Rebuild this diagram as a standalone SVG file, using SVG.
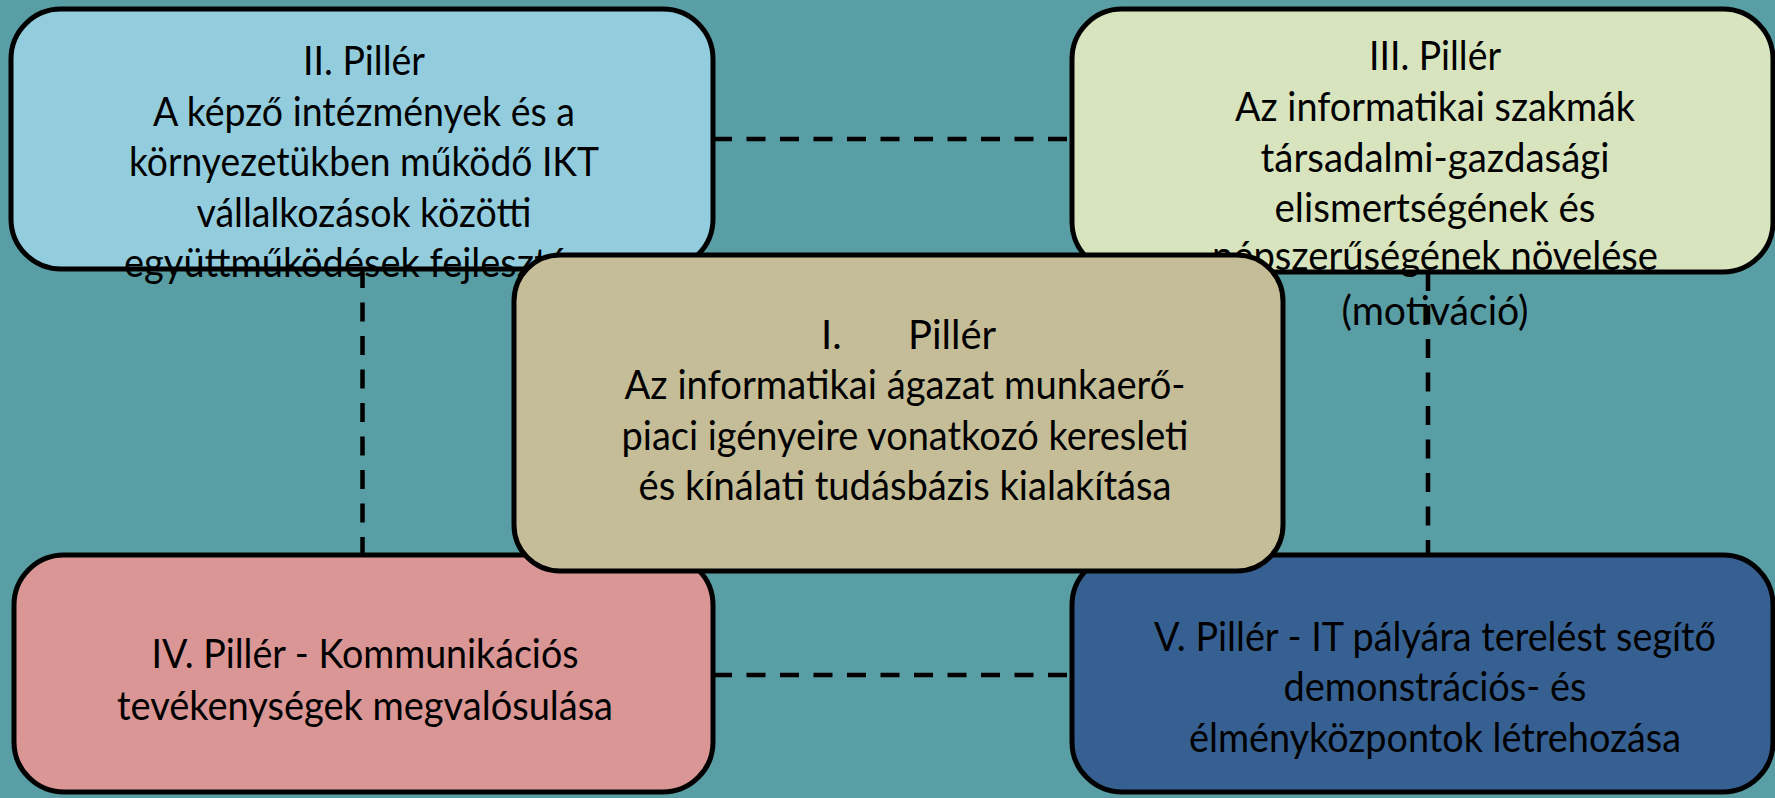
<svg xmlns="http://www.w3.org/2000/svg" width="1775" height="798" viewBox="0 0 1775 798">
<style>
.box{stroke:#000;stroke-width:5}
.t{font-family:Lato,"Liberation Sans",sans-serif;font-size:40px;fill:#000;text-anchor:middle}
.s{text-anchor:start}
.c{fill:none;stroke:#000;stroke-width:4.5;stroke-dasharray:19 14.5}
</style>
<rect width="1775" height="798" fill="#5A9EA5"/>
<g id="pillar2">
<rect class="box" x="11" y="9" width="702" height="260" rx="50" fill="#93CDDD"/>
<text class="t" x="364" y="75" textLength="122" lengthAdjust="spacingAndGlyphs">II. Pillér</text>
<text class="t" x="364" y="126" textLength="422" lengthAdjust="spacingAndGlyphs">A képző intézmények és a</text>
<text class="t" x="364" y="176" textLength="470" lengthAdjust="spacingAndGlyphs">környezetükben működő IKT</text>
<text class="t" x="364" y="227" textLength="335" lengthAdjust="spacingAndGlyphs">vállalkozások közötti</text>
<text class="t" x="364" y="277" textLength="480" lengthAdjust="spacingAndGlyphs">együttműködések fejlesztése</text>
</g>
<g id="pillar3">
<rect class="box" x="1072" y="9" width="701" height="263" rx="50" fill="#D7E4BD"/>
<text class="t" x="1435" y="70" textLength="132" lengthAdjust="spacingAndGlyphs">III. Pillér</text>
<text class="t" x="1435" y="121" textLength="400" lengthAdjust="spacingAndGlyphs">Az informatikai szakmák</text>
<text class="t" x="1435" y="172" textLength="349" lengthAdjust="spacingAndGlyphs">társadalmi-gazdasági</text>
<text class="t" x="1435" y="222" textLength="321" lengthAdjust="spacingAndGlyphs">elismertségének és</text>
<text class="t" x="1435" y="270" textLength="446" lengthAdjust="spacingAndGlyphs">népszerűségének növelése</text>
<text class="t" x="1435" y="325" textLength="187" lengthAdjust="spacingAndGlyphs">(motiváció)</text>
</g>
<g id="connectors">
<line class="c" x1="713" y1="139" x2="1072" y2="139"/>
<line class="c" x1="713" y1="675" x2="1072" y2="675"/>
<line class="c" x1="362.5" y1="269" x2="362.5" y2="555"/>
<line class="c" x1="1428" y1="272" x2="1428" y2="555"/>
</g>
<g id="pillar4">
<rect class="box" x="14" y="555" width="699" height="237" rx="50" fill="#D99694"/>
<text class="t" x="365" y="668" textLength="427" lengthAdjust="spacingAndGlyphs">IV. Pillér - Kommunikációs</text>
<text class="t" x="365" y="720" textLength="496" lengthAdjust="spacingAndGlyphs">tevékenységek megvalósulása</text>
</g>
<g id="pillar5">
<rect class="box" x="1072" y="555" width="701" height="237" rx="50" fill="#376092"/>
<text class="t" x="1435" y="651" textLength="562" lengthAdjust="spacingAndGlyphs">V. Pillér - IT pályára terelést segítő</text>
<text class="t" x="1435" y="701" textLength="303" lengthAdjust="spacingAndGlyphs">demonstrációs- és</text>
<text class="t" x="1435" y="752" textLength="492" lengthAdjust="spacingAndGlyphs">élményközpontok létrehozása</text>
</g>
<g id="pillar1">
<rect class="box" x="514" y="255" width="769" height="316" rx="46" fill="#C4BD97"/>
<text class="t s" y="349"><tspan x="821">I.</tspan><tspan x="908">Pillér</tspan></text>
<text class="t" x="905" y="399" textLength="561" lengthAdjust="spacingAndGlyphs">Az informatikai ágazat munkaerő-</text>
<text class="t" x="905" y="450" textLength="567" lengthAdjust="spacingAndGlyphs">piaci igényeire vonatkozó keresleti</text>
<text class="t" x="905" y="500" textLength="533" lengthAdjust="spacingAndGlyphs">és kínálati tudásbázis kialakítása</text>
</g>
</svg>
